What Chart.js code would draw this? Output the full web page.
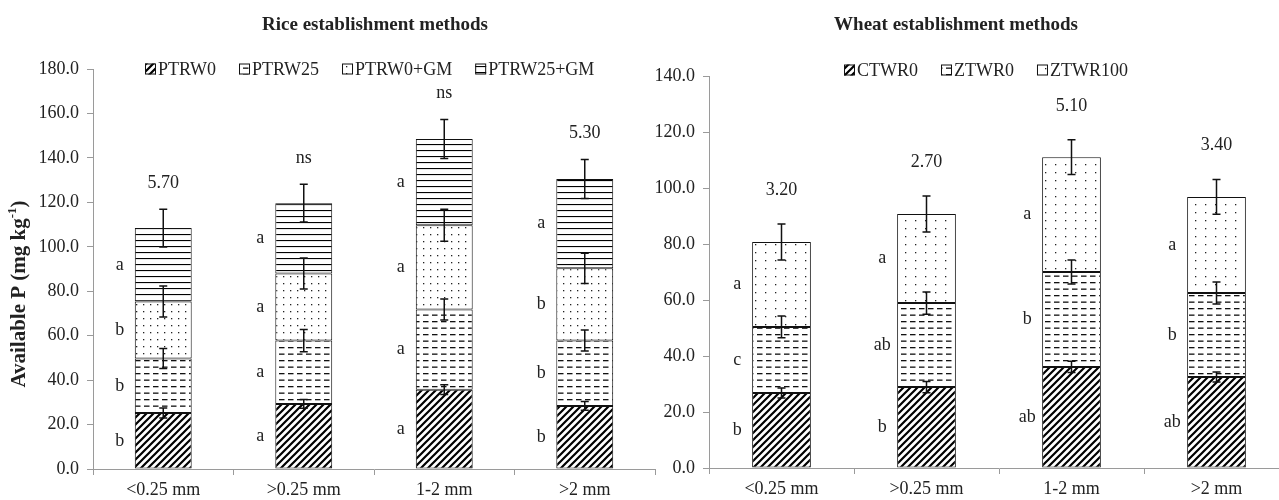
<!DOCTYPE html>
<html>
<head>
<meta charset="utf-8">
<title>Available P by aggregate size class</title>
<script src="https://cdn.jsdelivr.net/npm/chart.js@4.4.1/dist/chart.umd.min.js"></script>
<style>
  html, body { margin: 0; padding: 0; background: #fff; overflow: hidden; width: 1279px; height: 500px; }
  canvas { position: absolute; top: 0; }
  #rice { left: 0; }
  #wheat { left: 640px; }
</style>
</head>
<body>
<canvas id="rice" width="660" height="500"></canvas>
<canvas id="wheat" width="655" height="500"></canvas>
<script>
// Aggregate size classes (x categories)
const sizeClasses = ['<0.25 mm', '>0.25 mm', '1-2 mm', '>2 mm'];

// Rice establishment methods: available P (mg/kg) per treatment, stacked
const riceSeries = ['PTRW0', 'PTRW25', 'PTRW0+GM', 'PTRW25+GM'];
const ricePTRW0    = [25.2, 29.3, 35.7, 28.4];
const ricePTRW25   = [24.5, 28.5, 36.1, 29.4];
const ricePTRW0GM  = [25.7, 30.2, 37.9, 32.5];
const ricePTRW25GM = [33.0, 31.6, 38.8, 40.2];
// standard errors
const riceErrPTRW0    = [2.2, 2.0, 2.2, 2.0];
const riceErrPTRW25   = [4.5, 5.0, 4.7, 4.7];
const riceErrPTRW0GM  = [7.0, 7.0, 7.2, 6.8];
const riceErrPTRW25GM = [8.5, 8.5, 8.8, 8.8];
// significance letters
const riceLetPTRW0    = ['b', 'a', 'a', 'b'];
const riceLetPTRW25   = ['b', 'a', 'a', 'b'];
const riceLetPTRW0GM  = ['b', 'a', 'a', 'b'];
const riceLetPTRW25GM = ['a', 'a', 'a', 'a'];
// LSD values
const riceLSD = ['5.70', 'ns', 'ns', '5.30'];
const riceTicks = [0, 20, 40, 60, 80, 100, 120, 140, 160, 180];

// Wheat establishment methods
const wheatSeries = ['CTWR0', 'ZTWR0', 'ZTWR100'];
const wheatCTWR0   = [26.8, 28.9, 36.1, 32.5];
const wheatZTWR0   = [23.6, 30.0, 33.9, 30.0];
const wheatZTWR100 = [30.3, 31.8, 41.0, 34.3];
const wheatErrCTWR0   = [1.8, 2.0, 2.0, 1.8];
const wheatErrZTWR0   = [3.9, 4.0, 4.3, 3.9];
const wheatErrZTWR100 = [6.4, 6.4, 6.2, 6.2];
const wheatLetCTWR0   = ['b', 'b', 'ab', 'ab'];
const wheatLetZTWR0   = ['c', 'ab', 'b', 'b'];
const wheatLetZTWR100 = ['a', 'a', 'a', 'a'];
const wheatLSD = ['3.20', '2.70', '5.10', '3.40'];
const wheatTicks = [0, 20, 40, 60, 80, 100, 120, 140];

const SERIF = '"Liberation Serif", "Times New Roman", serif';
const TEXT = '#222';
const AXIS = '#9a9a9a';

// ---- fill patterns ----
function tile(w, h, draw) {
  const c = document.createElement('canvas');
  c.width = w; c.height = h;
  const g = c.getContext('2d');
  g.fillStyle = '#fff';
  g.fillRect(0, 0, w, h);
  draw(g);
  return c;
}
function hatch(ctx) {
  return ctx.createPattern(tile(7, 7, g => {
    g.strokeStyle = '#000'; g.lineWidth = 2.2; g.beginPath();
    g.moveTo(-1, 8); g.lineTo(8, -1);
    g.moveTo(-1, 1); g.lineTo(1, -1);
    g.moveTo(6, 8); g.lineTo(8, 6);
    g.stroke();
  }), 'repeat');
}
function dashes(ctx) {
  return ctx.createPattern(tile(9, 13, g => {
    g.fillStyle = '#111';
    g.fillRect(0, 2.5, 5.5, 1.3);
    g.fillRect(0, 9, 5.5, 1.3);
  }), 'repeat');
}
function dots(ctx, w, h) {
  return ctx.createPattern(tile(w, h, g => {
    g.fillStyle = '#222';
    g.fillRect(Math.floor(w / 2), Math.floor(h / 2), 1.3, 1.3);
  }), 'repeat');
}
function hlines(ctx) {
  return ctx.createPattern(tile(4, 6, g => {
    g.fillStyle = '#000';
    g.fillRect(0, 0, 4, 1.1);
  }), 'repeat');
}

// ---- annotation plugin: error bars, letters, LSD labels, titles, legend ----
const annotate = {
  id: 'annotate',
  afterDatasetsDraw(chart, args, o) {
    const ctx = chart.ctx;
    const y = chart.scales.y;
    const n = chart.data.labels.length;
    ctx.save();
    ctx.font = '18px ' + SERIF;
    ctx.fillStyle = TEXT;
    ctx.textAlign = 'center';
    ctx.textBaseline = 'middle';
    for (let j = 0; j < n; j++) {
      let cum = 0, topErr = 0;
      chart.data.datasets.forEach((ds, i) => {
        const bar = chart.getDatasetMeta(i).data[j];
        const v = ds.data[j];
        const e = o.errors[i][j];
        // letter to the left of the segment
        ctx.fillText(o.letters[i][j], bar.x - bar.width / 2 - 15, y.getPixelForValue(cum + v / 2));
        cum += v;
        // error bar
        const yHi = y.getPixelForValue(cum + e), yLo = y.getPixelForValue(cum - e);
        ctx.strokeStyle = '#111';
        ctx.lineWidth = 1.5;
        ctx.beginPath();
        ctx.moveTo(bar.x, yHi); ctx.lineTo(bar.x, yLo);
        ctx.moveTo(bar.x - 4, yHi); ctx.lineTo(bar.x + 4, yHi);
        ctx.moveTo(bar.x - 4, yLo); ctx.lineTo(bar.x + 4, yLo);
        ctx.stroke();
        topErr = cum + e;
      });
      const bar0 = chart.getDatasetMeta(0).data[j];
      ctx.fillText(o.lsd[j], bar0.x, y.getPixelForValue(topErr) - o.lsdGap);
    }
    ctx.restore();
  },
  afterDraw(chart, args, o) {
    const ctx = chart.ctx;
    ctx.save();
    // title
    ctx.font = 'bold 19px ' + SERIF;
    ctx.fillStyle = TEXT;
    ctx.textAlign = 'center';
    ctx.textBaseline = 'middle';
    ctx.fillText(o.title, o.titleX, 25);
    // legend
    ctx.font = '18px ' + SERIF;
    const box = 11, gapTxt = 2, gapItem = 23;
    let x = o.legendX;
    const ly = o.legendY;
    ctx.textAlign = 'left';
    chart.data.datasets.forEach(ds => {
      ctx.fillStyle = ds.backgroundColor;
      ctx.fillRect(x, ly - box / 2, box, box);
      ctx.strokeStyle = '#111';
      ctx.lineWidth = 1;
      ctx.strokeRect(x + 0.5, ly - box / 2 + 0.5, box - 1, box - 1);
      ctx.fillStyle = TEXT;
      ctx.fillText(ds.label, x + box + gapTxt, ly + 1);
      x += box + gapTxt + ctx.measureText(ds.label).width + gapItem;
    });
    // rotated y-axis title with superscript
    if (o.yTitle) {
      ctx.translate(20, 294);
      ctx.rotate(-Math.PI / 2);
      const main = 'Available P (mg kg', sup = '-1', end = ')';
      ctx.font = 'bold 21px ' + SERIF;
      const wMain = ctx.measureText(main).width, wEnd = ctx.measureText(end).width;
      ctx.font = 'bold 13px ' + SERIF;
      const wSup = ctx.measureText(sup).width;
      let sx = -(wMain + wSup + wEnd) / 2;
      ctx.fillStyle = TEXT;
      ctx.textBaseline = 'middle';
      ctx.font = 'bold 21px ' + SERIF;
      ctx.fillText(main, sx, 0); sx += wMain;
      ctx.font = 'bold 13px ' + SERIF;
      ctx.fillText(sup, sx, -7); sx += wSup;
      ctx.font = 'bold 21px ' + SERIF;
      ctx.fillText(end, sx, 0);
    }
    ctx.restore();
  }
};

function build(canvasId, spec) {
  const canvas = document.getElementById(canvasId);
  const ctx = canvas.getContext('2d');
  const datasets = spec.series.map((name, i) => ({
    label: name,
    data: spec.values[i],
    backgroundColor: spec.fills[i],
    borderColor: '#111',
    borderWidth: 1,
    borderSkipped: false,
    barPercentage: 0.405,
    categoryPercentage: 1
  }));
  return new Chart(ctx, {
    type: 'bar',
    data: { labels: sizeClasses, datasets },
    plugins: [annotate],
    options: {
      responsive: false,
      animation: false,
      devicePixelRatio: 1,
      layout: { padding: { top: spec.padTop, right: spec.padRight, left: 0, bottom: 0 } },
      plugins: {
        legend: { display: false },
        title: { display: false },
        tooltip: { enabled: false },
        annotate: {
          errors: spec.errors, letters: spec.letters, lsd: spec.lsd, lsdGap: spec.lsdGap,
          title: spec.title, titleX: spec.titleX, legendX: spec.legendX, legendY: spec.legendY,
          yTitle: spec.yTitle
        }
      },
      scales: {
        x: {
          stacked: true,
          grid: { offset: true, drawOnChartArea: false, tickLength: 6, color: AXIS },
          border: { color: AXIS },
          ticks: { font: { family: SERIF, size: 18 }, color: TEXT, padding: 4 },
          afterFit(s) { s.height = spec.xHeight; }
        },
        y: {
          stacked: true,
          min: spec.ticks[0],
          max: spec.ticks[spec.ticks.length - 1],
          afterBuildTicks(s) { s.ticks = spec.ticks.map(v => ({ value: v })); },
          grid: { drawOnChartArea: false, tickLength: 6, color: AXIS },
          border: { color: AXIS },
          ticks: { font: { family: SERIF, size: 18 }, color: TEXT, padding: 8, callback: v => Number(v).toFixed(1) },
          afterFit(s) { s.width = spec.yWidth; }
        }
      }
    }
  });
}

const rctx = document.getElementById('rice').getContext('2d');
build('rice', {
  series: riceSeries,
  values: [ricePTRW0, ricePTRW25, ricePTRW0GM, ricePTRW25GM],
  errors: [riceErrPTRW0, riceErrPTRW25, riceErrPTRW0GM, riceErrPTRW25GM],
  letters: [riceLetPTRW0, riceLetPTRW25, riceLetPTRW0GM, riceLetPTRW25GM],
  lsd: riceLSD,
  ticks: riceTicks,
  fills: [hatch(rctx), dashes(rctx), dots(rctx, 7, 7), hlines(rctx)],
  padTop: 69, padRight: 5, yWidth: 93, xHeight: 31,
  lsdGap: 26, title: 'Rice establishment methods', titleX: 375,
  legendX: 145, legendY: 69, yTitle: true
});

const wctx = document.getElementById('wheat').getContext('2d');
build('wheat', {
  series: wheatSeries,
  values: [wheatCTWR0, wheatZTWR0, wheatZTWR100],
  errors: [wheatErrCTWR0, wheatErrZTWR0, wheatErrZTWR100],
  letters: [wheatLetCTWR0, wheatLetZTWR0, wheatLetZTWR100],
  lsd: wheatLSD,
  ticks: wheatTicks,
  fills: [hatch(wctx), dashes(wctx), dots(wctx, 10, 8)],
  padTop: 76, padRight: 6, yWidth: 69, xHeight: 32,
  lsdGap: 34, title: 'Wheat establishment methods', titleX: 316,
  legendX: 204, legendY: 70, yTitle: false
});
</script>
</body>
</html>
